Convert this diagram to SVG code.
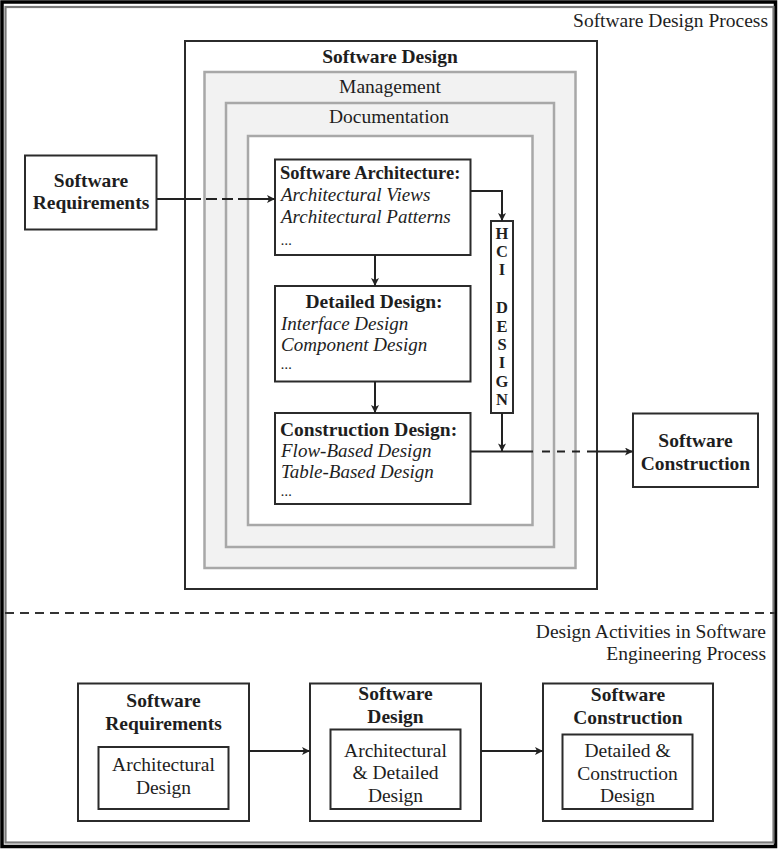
<svg xmlns="http://www.w3.org/2000/svg" width="778" height="849" viewBox="0 0 778 849">
<style>
text{font-family:"Liberation Serif","Times New Roman",serif;fill:#1e1e1e;font-size:19.5px}
.b{font-weight:bold}
.i{font-style:italic;font-size:19px}
.d{font-style:italic;font-size:15px}
.m{text-anchor:middle}
.e{text-anchor:end}
.box{fill:#fff;stroke:#2b2b2b;stroke-width:2}
.gbox{fill:#f2f2f2;stroke:#a8a8a8;stroke-width:2.5}
.wbox{fill:#fff;stroke:#a8a8a8;stroke-width:2.5}
.ln{fill:none;stroke:#222;stroke-width:2}
.hci{font-weight:bold;font-size:16.5px;text-anchor:middle}
</style>
<defs>
<marker id="ah" viewBox="0 0 10 10" refX="10" refY="5" markerWidth="9" markerHeight="8" markerUnits="userSpaceOnUse" orient="auto">
<path d="M0,0 L10,5 L0,10 L2.5,5 z" fill="#222"/>
</marker>
</defs>
<rect width="778" height="849" fill="#fff"/>
<!-- frame -->
<rect x="2" y="2" width="773.5" height="844.5" fill="none" stroke="#000" stroke-width="3.5"/>
<rect x="5.5" y="7" width="768" height="835.5" fill="none" stroke="#7a7a7a" stroke-width="2.2"/>
<line x1="5" y1="613" x2="775" y2="613" stroke="#333" stroke-width="2" stroke-dasharray="9 6"/>
<text class="e" x="768" y="27">Software Design Process</text>
<text class="e" x="766" y="638">Design Activities in Software</text>
<text class="e" x="766" y="660">Engineering Process</text>

<g id="software-design">
<rect class="box" x="185" y="41" width="412" height="548" stroke-width="2.5"/>
<text class="b m" x="390" y="63">Software Design</text>
</g>
<g id="management">
<rect class="gbox" x="204.5" y="72" width="371" height="496"/>
<text class="m" x="390" y="93">Management</text>
</g>
<g id="documentation">
<rect class="gbox" x="226" y="103" width="328" height="444"/>
<text class="m" x="389" y="123">Documentation</text>
</g>
<g id="inner">
<rect class="wbox" x="248" y="136" width="284.5" height="389"/>
</g>

<g id="software-architecture">
<rect class="box" x="275" y="159.5" width="195.5" height="95.5"/>
<text class="b" x="280" y="179" style="font-size:18.5px">Software Architecture:</text>
<text class="i" x="281" y="201">Architectural Views</text>
<text class="i" x="281" y="222.5">Architectural Patterns</text>
<text class="d" x="281" y="245">...</text>
</g>
<g id="detailed-design">
<rect class="box" x="275" y="286" width="195.5" height="95.5"/>
<text class="b m" x="374" y="308">Detailed Design:</text>
<text class="i" x="281" y="330">Interface Design</text>
<text class="i" x="281" y="351">Component Design</text>
<text class="d" x="281" y="369">...</text>
</g>
<g id="construction-design">
<rect class="box" x="275" y="413" width="195.5" height="91"/>
<text class="b" x="280" y="436">Construction Design:</text>
<text class="i" x="281" y="457">Flow-Based Design</text>
<text class="i" x="281" y="478">Table-Based Design</text>
<text class="d" x="281" y="496">...</text>
</g>
<g id="hci-design">
<rect class="box" x="491" y="221" width="22" height="192"/>
<text class="hci" x="502" y="239">H</text>
<text class="hci" x="502" y="257">C</text>
<text class="hci" x="502" y="275">I</text>
<text class="hci" x="502" y="313">D</text>
<text class="hci" x="502" y="331.5">E</text>
<text class="hci" x="502" y="350">S</text>
<text class="hci" x="502" y="368">I</text>
<text class="hci" x="502" y="386.5">G</text>
<text class="hci" x="502" y="405">N</text>
</g>
<g id="software-requirements-top">
<rect class="box" x="25" y="155.5" width="131.5" height="74"/>
<text class="b m" x="91" y="187">Software</text>
<text class="b m" x="91" y="209">Requirements</text>
</g>
<g id="software-construction-top">
<rect class="box" x="633" y="413.5" width="125" height="73.5"/>
<text class="b m" x="695.5" y="447">Software</text>
<text class="b m" x="695.5" y="470">Construction</text>
</g>

<g id="bottom-requirements">
<rect class="box" x="78" y="683.5" width="171" height="137.5"/>
<text class="b m" x="163.5" y="707">Software</text>
<text class="b m" x="163.5" y="730">Requirements</text>
<rect class="box" x="98.5" y="747" width="130" height="62"/>
<text class="m" x="163.5" y="771">Architectural</text>
<text class="m" x="163.5" y="794">Design</text>
</g>
<g id="bottom-design">
<rect class="box" x="310" y="683.5" width="171" height="137.5"/>
<text class="b m" x="395.5" y="700">Software</text>
<text class="b m" x="395.5" y="723">Design</text>
<rect class="box" x="330.5" y="729.5" width="130" height="79.5"/>
<text class="m" x="395.5" y="757">Architectural</text>
<text class="m" x="395.5" y="779">&amp; Detailed</text>
<text class="m" x="395.5" y="802">Design</text>
</g>
<g id="bottom-construction">
<rect class="box" x="543" y="683.5" width="170" height="137.5"/>
<text class="b m" x="628" y="701">Software</text>
<text class="b m" x="628" y="724">Construction</text>
<rect class="box" x="562.5" y="734.5" width="130" height="74.5"/>
<text class="m" x="627.5" y="757">Detailed &amp;</text>
<text class="m" x="627.5" y="780">Construction</text>
<text class="m" x="627.5" y="802">Design</text>
</g>

<g id="connectors">
<line class="ln" x1="157" y1="199" x2="190" y2="199"/>
<line class="ln" x1="190" y1="199" x2="239" y2="199" stroke-dasharray="11 5"/>
<line class="ln" x1="239" y1="199" x2="275" y2="199" marker-end="url(#ah)"/>
<path class="ln" d="M470.5,191 H502 V221" marker-end="url(#ah)"/>
<line class="ln" x1="375" y1="255" x2="375" y2="286" marker-end="url(#ah)"/>
<line class="ln" x1="375" y1="381.5" x2="375" y2="413" marker-end="url(#ah)"/>
<line class="ln" x1="502" y1="413" x2="502" y2="451.5" stroke-width="3" marker-end="url(#ah)"/>
<line class="ln" x1="470.5" y1="451.5" x2="533" y2="451.5"/>
<line class="ln" x1="542" y1="451.5" x2="581" y2="451.5" stroke-dasharray="8 7"/>
<line class="ln" x1="587" y1="451.5" x2="633" y2="451.5" stroke-width="2.6" marker-end="url(#ah)"/>
<line class="ln" x1="249" y1="751" x2="310" y2="751" marker-end="url(#ah)"/>
<line class="ln" x1="481" y1="751" x2="543" y2="751" marker-end="url(#ah)"/>
</g>
</svg>
